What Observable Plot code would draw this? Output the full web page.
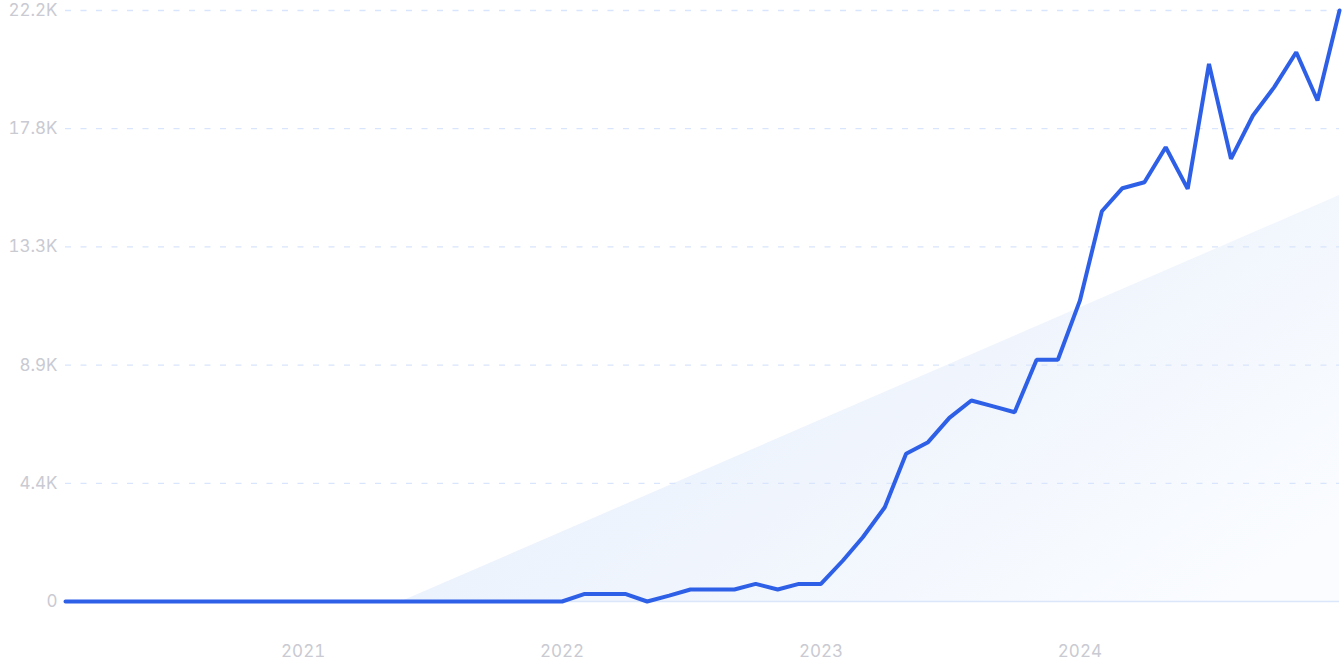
<!DOCTYPE html>
<html>
<head>
<meta charset="utf-8">
<script src="https://cdn.jsdelivr.net/npm/d3@7"></script>
<script src="https://cdn.jsdelivr.net/npm/@observablehq/plot@0.6"></script>
<style>
  html, body { margin: 0; padding: 0; background: #ffffff; }
  #chart { width: 1343px; height: 671px; }
</style>
</head>
<body>
<div id="chart"></div>
<script>
// Monthly series, Feb 2020 .. Jan 2025
const startMonth = "2020-02-01";
const values = [
  0, 0, 0, 0, 0, 0, 0, 0, 0, 0, 0,            // 2020 Feb-Dec
  0, 0, 0, 0, 0, 0, 0, 0, 0, 0, 0, 0,         // 2021
  0, 280, 280, 280, 0, 220, 450, 450, 450, 660, 450, 660, // 2022
  660, 1540, 2415, 3540, 5550, 5985, 6900, 7550, 7330, 7110, 9080, 9080, // 2023
  11300, 14660, 15525, 15750, 17065, 15500, 20195, 16630, 18255, 19320, 20630, 18820, // 2024
  22200                                       // 2025 Jan
];
// Trend shading (start on baseline, end at right edge)
const trendDates = ["2021-05-20", "2025-01-01"];
const trendValues = [0, 15250];

const yTicks = [0, 4440, 8880, 13320, 17760, 22200];
const xTicks = ["2021-01-01", "2022-01-01", "2023-01-01", "2024-01-01"];

const start = new Date(startMonth + "T00:00:00Z");
const series = values.map((v, i) => ({
  date: new Date(Date.UTC(start.getUTCFullYear(), start.getUTCMonth() + i, 1)),
  value: v
}));
const trend = trendDates.map((d, i) => ({ date: new Date(d + "T00:00:00Z"), value: trendValues[i] }));

const fmtY = v => v === 0 ? "0" : (v / 1000).toFixed(1) + "K";

const chart = Plot.plot({
  width: 1343,
  height: 671,
  marginLeft: 65,
  marginRight: 4,
  marginTop: 10,
  marginBottom: 70,
  style: { fontFamily: "Inter, 'Noto Sans', sans-serif", fontSize: "17px", color: "#c9cad2", background: "#ffffff", overflow: "visible" },
  x: { type: "utc", domain: [series[0].date, series[series.length - 1].date] },
  y: { domain: [0, 22200] },
  marks: [
    Plot.areaY(trend, { x: "date", y: "value", fill: "url(#trendGrad)" }),
    Plot.ruleY(yTicks.filter(d => d > 0), { stroke: "#d9e5fc", strokeWidth: 1.3, strokeDasharray: "6,9.5" }),
    Plot.ruleY([0], { stroke: "#dbe6fb", strokeWidth: 1.5 }),
    Plot.axisY({ ticks: yTicks, tickFormat: fmtY, tickSize: 0, tickPadding: 8, label: null, fill: "#c9cad2", fontSize: 17 }),
    Plot.axisX({ ticks: xTicks.map(d => new Date(d + "T00:00:00Z")), tickFormat: d3.utcFormat("%Y"), tickSize: 0, tickPadding: 43, label: null, fill: "#c9cad2", fontSize: 17 }),
    Plot.lineY(series, { x: "date", y: "value", stroke: "#2e5fe7", strokeWidth: 4, strokeLinejoin: "miter", curve: "linear" })
  ]
});

const defs = d3.select(chart).insert("defs", ":first-child");
const grad = defs.append("linearGradient")
  .attr("id", "trendGrad")
  .attr("x1", "0").attr("y1", "0.2")
  .attr("x2", "1").attr("y2", "0.8");
grad.append("stop").attr("offset", "0%").attr("stop-color", "#e4effc");
grad.append("stop").attr("offset", "55%").attr("stop-color", "#f0f5fd");
grad.append("stop").attr("offset", "100%").attr("stop-color", "#fafcff");

document.getElementById("chart").appendChild(chart);
</script>
</body>
</html>
